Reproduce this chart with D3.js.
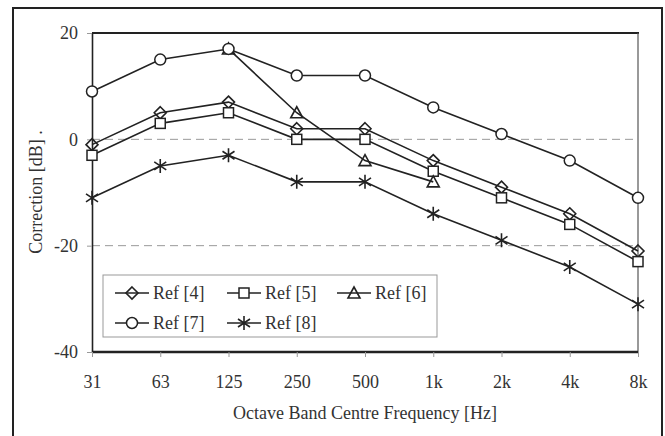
<!DOCTYPE html>
<meta charset="utf-8">
<title>Correction by octave band</title>
<style>
    body { margin: 0; background: #fff; }
    svg text { font-family: "Liberation Serif", "DejaVu Serif" !important; fill: #333; }
    .grid line { stroke: #999; stroke-dasharray: 8 5; }
    .series path { fill: none; stroke: #222; stroke-width: 1.6; }
    .mk { fill: #fff; stroke: #222; stroke-width: 1.5; }
</style>
<body>
<div id="chart"></div>
<script src="https://d3js.org/d3.v7.min.js"></script>
<script>
    // data
    var bands = ["31", "63", "125", "250", "500", "1k", "2k", "4k", "8k"];
    var ref4 = [-1, 5, 7, 2, 2, -4, -9, -14, -21];
    var ref5 = [-3, 3, 5, 0, 0, -6, -11, -16, -23];
    var ref6 = [null, null, 17, 5, -4, -8, null, null, null];
    var ref7 = [9, 15, 17, 12, 12, 6, 1, -4, -11];
    var ref8 = [-11, -5, -3, -8, -8, -14, -19, -24, -31];
    var yTicks = [20, 0, -20, -40];

    var series = [
        { name: "Ref [4]", values: ref4, symbol: "diamond" },
        { name: "Ref [5]", values: ref5, symbol: "square" },
        { name: "Ref [6]", values: ref6, symbol: "triangle" },
        { name: "Ref [7]", values: ref7, symbol: "circle" },
        { name: "Ref [8]", values: ref8, symbol: "star" }
    ];

    var W = 665, H = 436;
    var plot = { left: 92, top: 33, right: 638, bottom: 352 };

    var svg = d3.select("#chart").append("svg")
        .attr("width", W).attr("height", H);

    // outer frame
    svg.append("rect")
        .attr("x", 13).attr("y", 8)
        .attr("width", 649).attr("height", 440)
        .attr("fill", "none").attr("stroke", "#222").attr("stroke-width", 2);

    var x = d3.scalePoint().domain(bands).range([plot.left, plot.right]);
    var y = d3.scaleLinear().domain([-40, 20]).range([plot.bottom, plot.top]);

    // dashed grid at 0 and -20
    svg.append("g").attr("class", "grid")
        .selectAll("line").data([0, -20]).enter().append("line")
        .attr("x1", plot.left).attr("x2", plot.right)
        .attr("y1", d => y(d)).attr("y2", d => y(d));

    // top and right border of the plot area
    svg.append("line")
        .attr("x1", plot.left).attr("x2", plot.right + 1)
        .attr("y1", plot.top).attr("y2", plot.top)
        .attr("stroke", "#222").attr("stroke-width", 2);
    svg.append("line")
        .attr("x1", plot.right).attr("x2", plot.right)
        .attr("y1", plot.top).attr("y2", plot.bottom)
        .attr("stroke", "#555").attr("stroke-width", 1.2);

    // y axis (plain hyphen for negatives, like the original)
    var yAxis = svg.append("g")
        .attr("transform", `translate(${plot.left},0)`)
        .call(d3.axisLeft(y).tickValues(yTicks).tickFormat(d => String(d))
            .tickSize(5).tickSizeOuter(0).tickPadding(9));
    yAxis.attr("font-size", 18);
    yAxis.select(".domain").attr("stroke", "#222").attr("stroke-width", 1.6);
    yAxis.selectAll(".tick line").attr("stroke", "#999");
    yAxis.selectAll("text").attr("fill", "#333");

    // x axis
    var xAxis = svg.append("g")
        .attr("transform", `translate(0,${plot.bottom})`)
        .call(d3.axisBottom(x).tickSize(5).tickSizeOuter(0).tickPadding(18));
    xAxis.attr("font-size", 18);
    xAxis.select(".domain").attr("stroke", "#222").attr("stroke-width", 2.4)
        .attr("d", `M${plot.left},0H${plot.right}`);
    xAxis.selectAll(".tick line").attr("stroke", "#999");
    xAxis.selectAll("text").attr("fill", "#333");

    // axis titles
    svg.append("text")
        .attr("x", (plot.left + plot.right) / 2).attr("y", 419)
        .attr("text-anchor", "middle")
        .attr("font-size", 18)
        .text("Octave Band Centre Frequency [Hz]");
    svg.append("text")
        .attr("transform", "translate(42,192) rotate(-90)")
        .attr("text-anchor", "middle")
        .attr("font-size", 18)
        .text("Correction [dB] .");

    // marker drawing
    function marker(g, sym) {
        if (sym === "diamond") {
            g.append("path").attr("class", "mk").attr("d", "M0,-6L6,0L0,6L-6,0Z");
        } else if (sym === "square") {
            g.append("rect").attr("class", "mk")
                .attr("x", -5).attr("y", -5).attr("width", 10).attr("height", 10);
        } else if (sym === "triangle") {
            g.append("path").attr("class", "mk").attr("d", "M0,-6L6,5L-6,5Z");
        } else if (sym === "circle") {
            g.append("circle").attr("class", "mk").attr("r", 5.5);
        } else {
            g.append("path").attr("class", "mk").style("fill", "none")
                .attr("d", "M0,-7V7M-6,-4L6,4M-6,4L6,-4");
        }
    }

    var line = d3.line()
        .defined(d => d != null)
        .x((d, i) => x(bands[i]))
        .y(d => y(d));

    series.forEach(function (s) {
        var g = svg.append("g").attr("class", "series");
        g.append("path").attr("d", line(s.values));
        s.values.forEach(function (v, i) {
            if (v == null) return;
            var m = g.append("g").attr("transform", `translate(${x(bands[i])},${y(v)})`);
            marker(m, s.symbol);
        });
    });

    // legend
    var lg = svg.append("g");
    lg.append("rect")
        .attr("x", 103).attr("y", 275).attr("width", 334).attr("height", 62)
        .attr("fill", "#fff").attr("stroke", "#999").attr("stroke-width", 1);
    var colX = [115, 227, 337], rowY = [293, 323];
    series.forEach(function (s, i) {
        var cx = colX[i % 3], cy = rowY[Math.floor(i / 3)];
        var it = lg.append("g").attr("class", "series").attr("transform", `translate(${cx},${cy})`);
        it.append("path").attr("d", "M0,0H34");
        marker(it.append("g").attr("transform", "translate(17,0)"), s.symbol);
        it.append("text").attr("x", 38).attr("y", 6)
            .attr("font-size", 18).text(s.name);
    });
</script>
</body>
